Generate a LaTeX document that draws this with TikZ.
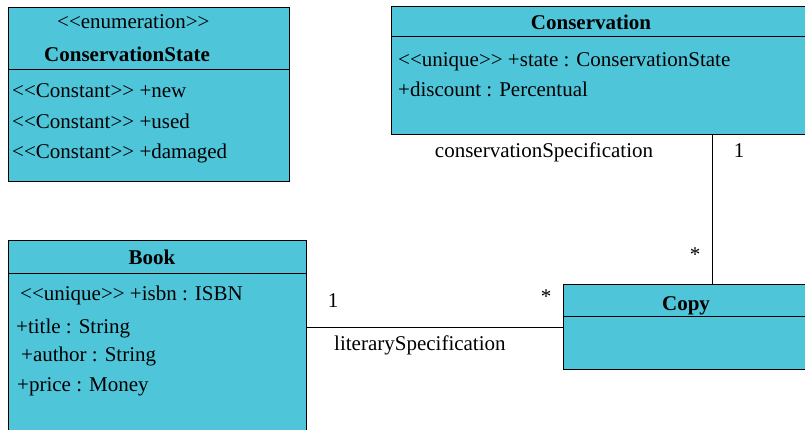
\documentclass[tikz,border=0pt]{standalone}
\usepackage{fontspec}
\setmainfont{Liberation Serif}[Ligatures=TeXOff]
\usetikzlibrary{positioning}
\definecolor{classfill}{RGB}{79,197,218}

\begin{document}
\begin{tikzpicture}[x=1pt, y=-1pt, every node/.style={font=\fontsize{21}{25}\selectfont}]
    \tikzset{
        classbox/.style={draw, rectangle, fill=classfill, line width=1pt, outer sep=0pt, inner sep=0pt},
        member/.style={anchor=base west, inner sep=0pt},
        roletext/.style={anchor=base, inner sep=0pt}
    }
    \useasboundingbox (0,0) rectangle (805,430);
    \clip (0,0) rectangle (805,430);

    % class boxes
    \node[classbox, anchor=north west, minimum width=281pt, minimum height=62pt] (statehead) at (8,8) {};
    \node[classbox, minimum width=281pt, minimum height=112pt, below=0pt of statehead] (statebody) {};
    \node[classbox, anchor=north west, minimum width=430pt, minimum height=30pt] (conshead) at (391,7) {};
    \node[classbox, minimum width=430pt, minimum height=98pt, below=0pt of conshead] (consbody) {};
    \node[classbox, anchor=north west, minimum width=298pt, minimum height=32pt] (bookhead) at (8,241) {};
    \node[classbox, minimum width=298pt, minimum height=180pt, below=0pt of bookhead] (bookbody) {};
    \node[classbox, anchor=north west, minimum width=260pt, minimum height=32pt] (copyhead) at (563,284) {};
    \node[classbox, minimum width=260pt, minimum height=53pt, below=0pt of copyhead] (copybody) {};

    % ConservationState
    \node[member] (stateenum) at (57,29) {<<enumeration>>};
    \node[member] (statename) at (44,62) {\textbf{ConservationState}};
    \node[member] (statenew) at (12,98) {<<Constant>> +new};
    \node[member] (stateused) at (12,129) {<<Constant>> +used};
    \node[member] (statedamaged) at (12,159) {<<Constant>> +damaged};

    % Conservation
    \node[roletext] (consname) at (591,30) {\textbf{Conservation}};
    \node[member] (consstate) at (398,67) {<<unique>> +state : ConservationState};
    \node[member] (consdiscount) at (398,97) {+discount : Percentual};

    % Book
    \node[roletext] (bookname) at (152,265) {\textbf{Book}};
    \node[member] (bookisbn) at (20,300) {<<unique>> +isbn : ISBN};
    \node[member] (booktitle) at (16,333) {+title : String};
    \node[member] (bookauthor) at (21,361) {+author : String};
    \node[member] (bookprice) at (17,391) {+price : Money};

    % Copy
    \node[roletext] (copyname) at (686,310) {\textbf{Copy}};

    % associations
    \draw[line width=1pt] ([yshift=-11pt]copybody.north west) -- ([yshift=-11pt]copybody.north west -| bookbody.east);
    \draw[line width=1pt] ([xshift=149pt]copyhead.north west) -- ([xshift=149pt]copyhead.north west |- consbody.south);

    \node[roletext] (litone) at (333,307) {1};
    \node[inner sep=0pt] (litmany) at (546,297) {*};
    \node[member] (litrole) at (334,350) {literarySpecification};
    \node[roletext] (consrole) at (544,158) {conservationSpecification};
    \node[roletext] (consone) at (739,158) {1};
    \node[inner sep=0pt] (consmany) at (695,255) {*};
\end{tikzpicture}
\end{document}
